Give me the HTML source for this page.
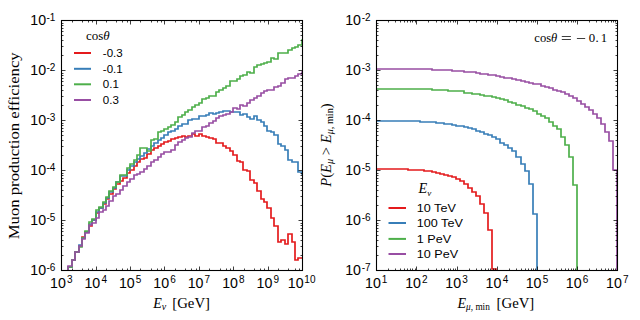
<!DOCTYPE html>
<html><head><meta charset="utf-8"><style>
html,body{margin:0;padding:0;background:#fff;width:640px;height:320px;overflow:hidden}
svg{display:block;font-family:"Liberation Sans", sans-serif}
</style></head><body><svg width="640" height="320" viewBox="0 0 640 320"><defs><clipPath id="cl"><rect x="61.50" y="20.50" width="241.00" height="250.00"/></clipPath><clipPath id="cr"><rect x="376.50" y="20.50" width="241.00" height="250.00"/></clipPath></defs><g clip-path="url(#cl)" fill="none" stroke-width="1.7" stroke-linejoin="miter"><path stroke="#e41a1c" d="M61.00,300.00 V300 H65 V300 H68 V267 H72 V260 H75 V252 H79 V246 H82 V237 H85 V232 H89 V226 H92 V220 H96 V213 H99 V208 H103 V204 H106 V199 H109 V194 H113 V189 H116 V184 H120 V181 H123 V178 H127 V173 H130 V170 H134 V166 H137 V162 H140 V159 H144 V158 H147 V154 H151 V150 H154 V148 H158 V146 H161 V144 H164 V142 H168 V141 H171 V139 H175 V138 H178 V137 H182 V136 H185 V137 H188 V136 H192 V134 H195 V136 H199 V134 H202 V136 H206 V137 H209 V138 H213 V139 H216 V143 H219 V143 H223 V146 H226 V148 H230 V151 H233 V155 H237 V161 H240 V162 H243 V170 H247 V171 H250 V180 H254 V183 H257 V191 H261 V199 H264 V202 H267 V208 H271 V218 H274 V226 H278 V242 H281 V240 H285 V244 H288 V234 H292 V242 H295 V260 H298 V258 H302 V258 H305 V300.00"/><path stroke="#377eb8" d="M61.00,300.00 V300 H65 V300 H68 V267 H72 V260 H75 V252 H79 V245 H82 V238 H85 V232 H89 V224 H92 V220 H96 V212 H99 V208 H103 V203 H106 V198 H109 V192 H113 V188 H116 V182 H120 V176 H123 V176 H127 V170 H130 V166 H134 V162 H137 V159 H140 V156 H144 V153 H147 V149 H151 V146 H154 V143 H158 V140 H161 V138 H164 V135 H168 V132 H171 V131 H175 V129 H178 V126 H182 V124 H185 V124 H188 V120 H192 V119 H195 V119 H199 V116 H202 V116 H206 V115 H209 V113 H213 V114 H216 V113 H219 V112 H223 V111 H226 V111 H230 V112 H233 V112 H237 V112 H240 V115 H243 V114 H247 V117 H250 V119 H254 V116 H257 V120 H261 V122 H264 V126 H267 V131 H271 V132 H274 V135 H278 V144 H281 V146 H285 V150 H288 V160 H292 V162 H295 V162 H298 V172 H302 V174 H305 V300.00"/><path stroke="#4daf4a" d="M61.00,300.00 V300 H65 V300 H68 V267 H72 V260 H75 V252 H79 V247 H82 V238 H85 V231 H89 V222 H92 V219 H96 V210 H99 V207 H103 V202 H106 V197 H109 V191 H113 V187 H116 V182 H120 V175 H123 V175 H127 V168 H130 V164 H134 V160 H137 V155 H140 V148 H144 V148 H147 V151 H151 V140 H154 V139 H158 V132 H161 V131 H164 V129 H168 V127 H171 V125 H175 V122 H178 V117 H182 V115 H185 V112 H188 V110 H192 V107 H195 V105 H199 V103 H202 V99 H206 V98 H209 V96 H213 V96 H216 V92 H219 V90 H223 V88 H226 V86 H230 V81 H233 V81 H237 V79 H240 V76 H243 V75 H247 V72 H250 V73 H254 V67 H257 V65 H261 V64 H264 V63 H267 V62 H271 V58 H274 V59 H278 V53 H281 V53 H285 V53 H288 V50 H292 V48 H295 V47 H298 V45 H302 V40 H305 V300.00"/><path stroke="#984ea3" d="M61.00,300.00 V300 H65 V300 H68 V266 H72 V260 H75 V252 H79 V246 H82 V239 H85 V233 H89 V225 H92 V223 H96 V218 H99 V212 H103 V210 H106 V206 H109 V201 H113 V196 H116 V194 H120 V190 H123 V186 H127 V182 H130 V179 H134 V175 H137 V174 H140 V172 H144 V169 H147 V166 H151 V162 H154 V160 H158 V157 H161 V154 H164 V152 H168 V152 H171 V150 H175 V145 H178 V142 H182 V140 H185 V138 H188 V137 H192 V133 H195 V131 H199 V131 H202 V127 H206 V126 H209 V123 H213 V121 H216 V118 H219 V116 H223 V115 H226 V114 H230 V112 H233 V108 H237 V109 H240 V105 H243 V106 H247 V103 H250 V100 H254 V98 H257 V96 H261 V93 H264 V91 H267 V90 H271 V90 H274 V87 H278 V86 H281 V83 H285 V79 H288 V78 H292 V78 H295 V76 H298 V74 H302 V72 H305 V300.00"/></g><g clip-path="url(#cr)" fill="none" stroke-width="1.7" stroke-linejoin="miter"><path stroke="#e41a1c" d="M376.00,300.00 V169 H380 V169 H384 V169 H388 V169 H392 V169 H396 V169 H400 V169 H404 V169 H408 V170 H412 V170 H416 V170 H420 V170 H424 V171 H428 V171 H432 V172 H436 V173 H440 V174 H444 V175 H448 V176 H452 V177 H456 V179 H460 V181 H464 V184 H468 V188 H472 V192 H476 V196 H480 V204 H484 V213 H488 V230 H492 V269 H496 V300.00"/><path stroke="#377eb8" d="M376.00,300.00 V121 H380 V121 H384 V121 H388 V121 H392 V121 H396 V121 H400 V121 H404 V121 H408 V121 H412 V121 H416 V121 H420 V122 H424 V122 H428 V122 H432 V122 H436 V123 H440 V123 H444 V124 H448 V124 H452 V125 H456 V126 H460 V126 H464 V127 H468 V128 H472 V129 H476 V131 H480 V132 H484 V134 H488 V135 H492 V137 H496 V139 H500 V143 H504 V145 H508 V148 H512 V151 H516 V157 H521 V164 H525 V171 H529 V184 H533 V214 H537 V300.00"/><path stroke="#4daf4a" d="M376.00,300.00 V89 H380 V89 H384 V89 H388 V89 H392 V89 H396 V89 H400 V89 H404 V89 H408 V89 H412 V89 H416 V89 H420 V89 H424 V89 H428 V89 H432 V90 H436 V90 H440 V90 H444 V90 H448 V91 H452 V91 H456 V91 H460 V91 H464 V93 H468 V93 H472 V94 H476 V94 H480 V95 H484 V96 H488 V96 H492 V97 H496 V98 H500 V99 H504 V100 H508 V102 H512 V103 H516 V105 H521 V106 H525 V108 H529 V109 H533 V111 H537 V114 H541 V116 H545 V118 H549 V122 H553 V126 H557 V129 H561 V137 H565 V145 H569 V157 H573 V185 H577 V300.00"/><path stroke="#984ea3" d="M376.00,300.00 V69 H380 V69 H384 V69 H388 V69 H392 V69 H396 V69 H400 V69 H404 V69 H408 V69 H412 V69 H416 V69 H420 V69 H424 V69 H428 V69 H432 V70 H436 V70 H440 V70 H444 V70 H448 V70 H452 V71 H456 V71 H460 V71 H464 V72 H468 V72 H472 V72 H476 V73 H480 V74 H484 V74 H488 V75 H492 V75 H496 V76 H500 V77 H504 V78 H508 V78 H512 V79 H516 V80 H521 V81 H525 V82 H529 V83 H533 V84 H537 V84 H541 V86 H545 V87 H549 V88 H553 V90 H557 V91 H561 V92 H565 V94 H569 V96 H573 V98 H577 V101 H581 V104 H585 V107 H589 V110 H593 V114 H597 V118 H601 V124 H605 V132 H609 V141 H613 V170 H617 V300.00"/></g><rect x="61.50" y="20.50" width="241.00" height="250.00" fill="none" stroke="#000" stroke-width="1.1"/><path stroke="#000" stroke-width="0.75" fill="none" d="M61.50,270.50v-4 M61.50,20.50v4 M72.50,270.50v-2 M72.50,20.50v2 M82.50,270.50v-2 M82.50,20.50v2 M88.50,270.50v-2 M88.50,20.50v2 M92.50,270.50v-2 M92.50,20.50v2 M96.50,270.50v-4 M96.50,20.50v4 M106.50,270.50v-2 M106.50,20.50v2 M116.50,270.50v-2 M116.50,20.50v2 M122.50,270.50v-2 M122.50,20.50v2 M127.50,270.50v-2 M127.50,20.50v2 M130.50,270.50v-4 M130.50,20.50v4 M140.50,270.50v-2 M140.50,20.50v2 M151.50,270.50v-2 M151.50,20.50v2 M157.50,270.50v-2 M157.50,20.50v2 M161.50,270.50v-2 M161.50,20.50v2 M164.50,270.50v-4 M164.50,20.50v4 M175.50,270.50v-2 M175.50,20.50v2 M185.50,270.50v-2 M185.50,20.50v2 M191.50,270.50v-2 M191.50,20.50v2 M196.50,270.50v-2 M196.50,20.50v2 M199.50,270.50v-4 M199.50,20.50v4 M209.50,270.50v-2 M209.50,20.50v2 M220.50,270.50v-2 M220.50,20.50v2 M226.50,270.50v-2 M226.50,20.50v2 M230.50,270.50v-2 M230.50,20.50v2 M233.50,270.50v-4 M233.50,20.50v4 M244.50,270.50v-2 M244.50,20.50v2 M254.50,270.50v-2 M254.50,20.50v2 M260.50,270.50v-2 M260.50,20.50v2 M264.50,270.50v-2 M264.50,20.50v2 M268.50,270.50v-4 M268.50,20.50v4 M278.50,270.50v-2 M278.50,20.50v2 M288.50,270.50v-2 M288.50,20.50v2 M295.50,270.50v-2 M295.50,20.50v2 M299.50,270.50v-2 M299.50,20.50v2 M302.50,270.50v-4 M302.50,20.50v4 M61.50,270.50h4 M302.50,270.50h-4 M61.50,255.50h2 M302.50,255.50h-2 M61.50,246.50h2 M302.50,246.50h-2 M61.50,240.50h2 M302.50,240.50h-2 M61.50,235.50h2 M302.50,235.50h-2 M61.50,231.50h2 M302.50,231.50h-2 M61.50,228.50h2 M302.50,228.50h-2 M61.50,225.50h2 M302.50,225.50h-2 M61.50,223.50h2 M302.50,223.50h-2 M61.50,220.50h4 M302.50,220.50h-4 M61.50,205.50h2 M302.50,205.50h-2 M61.50,196.50h2 M302.50,196.50h-2 M61.50,190.50h2 M302.50,190.50h-2 M61.50,185.50h2 M302.50,185.50h-2 M61.50,181.50h2 M302.50,181.50h-2 M61.50,178.50h2 M302.50,178.50h-2 M61.50,175.50h2 M302.50,175.50h-2 M61.50,173.50h2 M302.50,173.50h-2 M61.50,170.50h4 M302.50,170.50h-4 M61.50,155.50h2 M302.50,155.50h-2 M61.50,146.50h2 M302.50,146.50h-2 M61.50,140.50h2 M302.50,140.50h-2 M61.50,135.50h2 M302.50,135.50h-2 M61.50,131.50h2 M302.50,131.50h-2 M61.50,128.50h2 M302.50,128.50h-2 M61.50,125.50h2 M302.50,125.50h-2 M61.50,123.50h2 M302.50,123.50h-2 M61.50,120.50h4 M302.50,120.50h-4 M61.50,105.50h2 M302.50,105.50h-2 M61.50,96.50h2 M302.50,96.50h-2 M61.50,90.50h2 M302.50,90.50h-2 M61.50,85.50h2 M302.50,85.50h-2 M61.50,81.50h2 M302.50,81.50h-2 M61.50,78.50h2 M302.50,78.50h-2 M61.50,75.50h2 M302.50,75.50h-2 M61.50,73.50h2 M302.50,73.50h-2 M61.50,70.50h4 M302.50,70.50h-4 M61.50,55.50h2 M302.50,55.50h-2 M61.50,46.50h2 M302.50,46.50h-2 M61.50,40.50h2 M302.50,40.50h-2 M61.50,35.50h2 M302.50,35.50h-2 M61.50,31.50h2 M302.50,31.50h-2 M61.50,28.50h2 M302.50,28.50h-2 M61.50,25.50h2 M302.50,25.50h-2 M61.50,23.50h2 M302.50,23.50h-2 M61.50,20.50h4 M302.50,20.50h-4"/><rect x="376.50" y="20.50" width="241.00" height="250.00" fill="none" stroke="#000" stroke-width="1.1"/><path stroke="#000" stroke-width="0.75" fill="none" d="M376.50,270.50v-4 M376.50,20.50v4 M388.50,270.50v-2 M388.50,20.50v2 M395.50,270.50v-2 M395.50,20.50v2 M400.50,270.50v-2 M400.50,20.50v2 M404.50,270.50v-2 M404.50,20.50v2 M407.50,270.50v-2 M407.50,20.50v2 M410.50,270.50v-2 M410.50,20.50v2 M412.50,270.50v-2 M412.50,20.50v2 M415.50,270.50v-2 M415.50,20.50v2 M416.50,270.50v-4 M416.50,20.50v4 M428.50,270.50v-2 M428.50,20.50v2 M436.50,270.50v-2 M436.50,20.50v2 M441.50,270.50v-2 M441.50,20.50v2 M444.50,270.50v-2 M444.50,20.50v2 M448.50,270.50v-2 M448.50,20.50v2 M450.50,270.50v-2 M450.50,20.50v2 M453.50,270.50v-2 M453.50,20.50v2 M455.50,270.50v-2 M455.50,20.50v2 M457.50,270.50v-4 M457.50,20.50v4 M469.50,270.50v-2 M469.50,20.50v2 M476.50,270.50v-2 M476.50,20.50v2 M481.50,270.50v-2 M481.50,20.50v2 M485.50,270.50v-2 M485.50,20.50v2 M488.50,270.50v-2 M488.50,20.50v2 M490.50,270.50v-2 M490.50,20.50v2 M493.50,270.50v-2 M493.50,20.50v2 M495.50,270.50v-2 M495.50,20.50v2 M497.50,270.50v-4 M497.50,20.50v4 M509.50,270.50v-2 M509.50,20.50v2 M516.50,270.50v-2 M516.50,20.50v2 M521.50,270.50v-2 M521.50,20.50v2 M525.50,270.50v-2 M525.50,20.50v2 M528.50,270.50v-2 M528.50,20.50v2 M531.50,270.50v-2 M531.50,20.50v2 M533.50,270.50v-2 M533.50,20.50v2 M535.50,270.50v-2 M535.50,20.50v2 M537.50,270.50v-4 M537.50,20.50v4 M549.50,270.50v-2 M549.50,20.50v2 M556.50,270.50v-2 M556.50,20.50v2 M561.50,270.50v-2 M561.50,20.50v2 M565.50,270.50v-2 M565.50,20.50v2 M568.50,270.50v-2 M568.50,20.50v2 M571.50,270.50v-2 M571.50,20.50v2 M573.50,270.50v-2 M573.50,20.50v2 M575.50,270.50v-2 M575.50,20.50v2 M577.50,270.50v-4 M577.50,20.50v4 M589.50,270.50v-2 M589.50,20.50v2 M596.50,270.50v-2 M596.50,20.50v2 M601.50,270.50v-2 M601.50,20.50v2 M605.50,270.50v-2 M605.50,20.50v2 M608.50,270.50v-2 M608.50,20.50v2 M611.50,270.50v-2 M611.50,20.50v2 M613.50,270.50v-2 M613.50,20.50v2 M615.50,270.50v-2 M615.50,20.50v2 M617.50,270.50v-4 M617.50,20.50v4 M376.50,270.50h4 M617.50,270.50h-4 M376.50,255.50h2 M617.50,255.50h-2 M376.50,246.50h2 M617.50,246.50h-2 M376.50,240.50h2 M617.50,240.50h-2 M376.50,235.50h2 M617.50,235.50h-2 M376.50,231.50h2 M617.50,231.50h-2 M376.50,228.50h2 M617.50,228.50h-2 M376.50,225.50h2 M617.50,225.50h-2 M376.50,223.50h2 M617.50,223.50h-2 M376.50,220.50h4 M617.50,220.50h-4 M376.50,205.50h2 M617.50,205.50h-2 M376.50,196.50h2 M617.50,196.50h-2 M376.50,190.50h2 M617.50,190.50h-2 M376.50,185.50h2 M617.50,185.50h-2 M376.50,181.50h2 M617.50,181.50h-2 M376.50,178.50h2 M617.50,178.50h-2 M376.50,175.50h2 M617.50,175.50h-2 M376.50,173.50h2 M617.50,173.50h-2 M376.50,170.50h4 M617.50,170.50h-4 M376.50,155.50h2 M617.50,155.50h-2 M376.50,146.50h2 M617.50,146.50h-2 M376.50,140.50h2 M617.50,140.50h-2 M376.50,135.50h2 M617.50,135.50h-2 M376.50,131.50h2 M617.50,131.50h-2 M376.50,128.50h2 M617.50,128.50h-2 M376.50,125.50h2 M617.50,125.50h-2 M376.50,123.50h2 M617.50,123.50h-2 M376.50,120.50h4 M617.50,120.50h-4 M376.50,105.50h2 M617.50,105.50h-2 M376.50,96.50h2 M617.50,96.50h-2 M376.50,90.50h2 M617.50,90.50h-2 M376.50,85.50h2 M617.50,85.50h-2 M376.50,81.50h2 M617.50,81.50h-2 M376.50,78.50h2 M617.50,78.50h-2 M376.50,75.50h2 M617.50,75.50h-2 M376.50,73.50h2 M617.50,73.50h-2 M376.50,70.50h4 M617.50,70.50h-4 M376.50,55.50h2 M617.50,55.50h-2 M376.50,46.50h2 M617.50,46.50h-2 M376.50,40.50h2 M617.50,40.50h-2 M376.50,35.50h2 M617.50,35.50h-2 M376.50,31.50h2 M617.50,31.50h-2 M376.50,28.50h2 M617.50,28.50h-2 M376.50,25.50h2 M617.50,25.50h-2 M376.50,23.50h2 M617.50,23.50h-2 M376.50,20.50h4 M617.50,20.50h-4"/><g font-family='"Liberation Sans", sans-serif' fill="#000"><text x="30.32" y="25.00" font-size="14.20">10</text><text x="46.46" y="20.60" font-size="10.00">-1</text><text x="345.22" y="25.00" font-size="14.20">10</text><text x="361.66" y="20.60" font-size="10.00">-2</text><text x="30.32" y="75.00" font-size="14.20">10</text><text x="46.46" y="70.60" font-size="10.00">-2</text><text x="345.22" y="75.00" font-size="14.20">10</text><text x="361.66" y="70.60" font-size="10.00">-3</text><text x="30.32" y="125.00" font-size="14.20">10</text><text x="46.46" y="120.60" font-size="10.00">-3</text><text x="345.22" y="125.00" font-size="14.20">10</text><text x="361.66" y="120.60" font-size="10.00">-4</text><text x="30.32" y="175.00" font-size="14.20">10</text><text x="46.46" y="170.60" font-size="10.00">-4</text><text x="345.22" y="175.00" font-size="14.20">10</text><text x="361.66" y="170.60" font-size="10.00">-5</text><text x="30.32" y="225.00" font-size="14.20">10</text><text x="46.46" y="220.60" font-size="10.00">-5</text><text x="345.22" y="225.00" font-size="14.20">10</text><text x="361.66" y="220.60" font-size="10.00">-6</text><text x="30.32" y="275.00" font-size="14.20">10</text><text x="46.46" y="270.60" font-size="10.00">-6</text><text x="345.22" y="275.00" font-size="14.20">10</text><text x="361.66" y="270.60" font-size="10.00">-7</text><text x="50.02" y="287.80" font-size="14.20">10</text><text x="67.02" y="283.40" font-size="10.00">3</text><text x="84.45" y="287.80" font-size="14.20">10</text><text x="101.60" y="283.40" font-size="10.00">4</text><text x="118.88" y="287.80" font-size="14.20">10</text><text x="135.86" y="283.40" font-size="10.00">5</text><text x="153.30" y="287.80" font-size="14.20">10</text><text x="170.18" y="283.40" font-size="10.00">6</text><text x="187.73" y="287.80" font-size="14.20">10</text><text x="204.60" y="283.40" font-size="10.00">7</text><text x="222.16" y="287.80" font-size="14.20">10</text><text x="239.11" y="283.40" font-size="10.00">8</text><text x="256.59" y="287.80" font-size="14.20">10</text><text x="273.50" y="283.40" font-size="10.00">9</text><text x="287.82" y="287.80" font-size="14.20">10</text><text x="304.34" y="283.40" font-size="10.00">10</text><text x="365.02" y="287.80" font-size="14.20">10</text><text x="381.64" y="283.40" font-size="10.00">1</text><text x="405.19" y="287.80" font-size="14.20">10</text><text x="422.06" y="283.40" font-size="10.00">2</text><text x="445.35" y="287.80" font-size="14.20">10</text><text x="462.35" y="283.40" font-size="10.00">3</text><text x="485.52" y="287.80" font-size="14.20">10</text><text x="502.67" y="283.40" font-size="10.00">4</text><text x="525.69" y="287.80" font-size="14.20">10</text><text x="542.67" y="283.40" font-size="10.00">5</text><text x="565.85" y="287.80" font-size="14.20">10</text><text x="582.73" y="283.40" font-size="10.00">6</text><text x="606.02" y="287.80" font-size="14.20">10</text><text x="622.89" y="283.40" font-size="10.00">7</text></g><path stroke="#e41a1c" stroke-width="2" d="M74,53.00H91"/><text transform="translate(102.79,56.80) scale(1.1,1)" font-size="10.5" font-family='"Liberation Sans", sans-serif'>-0.3</text><path stroke="#377eb8" stroke-width="2" d="M74,68.80H91"/><text transform="translate(102.79,72.60) scale(1.1,1)" font-size="10.5" font-family='"Liberation Sans", sans-serif'>-0.1</text><path stroke="#4daf4a" stroke-width="2" d="M74,84.30H91"/><text transform="translate(102.85,88.10) scale(1.1,1)" font-size="10.5" font-family='"Liberation Sans", sans-serif'>0.1</text><path stroke="#984ea3" stroke-width="2" d="M74,100.00H91"/><text transform="translate(102.85,103.80) scale(1.1,1)" font-size="10.5" font-family='"Liberation Sans", sans-serif'>0.3</text><path stroke="#e41a1c" stroke-width="2" d="M388.5,208.00H406"/><text transform="translate(416.84,212.00) scale(1.20,1)" font-size="10.5" font-family='"Liberation Sans", sans-serif'>10 TeV</text><path stroke="#377eb8" stroke-width="2" d="M388.5,223.00H406"/><text transform="translate(416.84,227.00) scale(1.20,1)" font-size="10.5" font-family='"Liberation Sans", sans-serif'>100 TeV</text><path stroke="#4daf4a" stroke-width="2" d="M388.5,238.90H406"/><text transform="translate(416.84,242.90) scale(1.20,1)" font-size="10.5" font-family='"Liberation Sans", sans-serif'>1 PeV</text><path stroke="#984ea3" stroke-width="2" d="M388.5,254.00H406"/><text transform="translate(416.84,258.00) scale(1.20,1)" font-size="10.5" font-family='"Liberation Sans", sans-serif'>10 PeV</text><text x="86" y="40" font-size="13" font-family='"Liberation Serif", serif'>cos<tspan font-style="italic">&#952;</tspan></text><text x="418.6" y="193.3" font-size="14.2" font-family='"Liberation Serif", serif'><tspan font-style="italic">E</tspan><tspan font-style="italic" font-size="9" dy="2.2">&#957;</tspan></text><text x="534.3" y="41.8" font-size="12.6" font-family='"Liberation Serif", serif'>cos<tspan font-style="italic">&#952;</tspan></text><path stroke="#000" stroke-width="0.75" fill="none" d="M561.8,36.5H570.9M561.8,39.5H570.9M576.9,38.5H585.2"/><text x="588.7" y="41.8" font-size="12.8" font-family='"Liberation Serif", serif'>0</text><text x="595.4" y="41.8" font-size="12.8" font-family='"Liberation Serif", serif'>.</text><text x="600.7" y="41.8" font-size="12.8" font-family='"Liberation Serif", serif'>1</text><text x="153.3" y="307.6" font-size="14" font-family='"Liberation Serif", serif'><tspan font-style="italic">E</tspan><tspan font-style="italic" font-size="10" dy="2">&#957;</tspan></text><text x="172.3" y="307.6" font-size="14" font-family='"Liberation Serif", serif' textLength="37.7" lengthAdjust="spacingAndGlyphs">[GeV]</text><text x="457.5" y="307.6" font-size="14" font-family='"Liberation Serif", serif'><tspan font-style="italic">E</tspan><tspan font-size="9.3" dy="2"><tspan font-style="italic">&#956;</tspan>, min</tspan></text><text x="496.6" y="307.6" font-size="14" font-family='"Liberation Serif", serif' textLength="37.7" lengthAdjust="spacingAndGlyphs">[GeV]</text><text transform="translate(19.0,239.3) rotate(-90)" x="0" y="0" font-size="13.6" font-family='"Liberation Serif", serif' textLength="187" lengthAdjust="spacingAndGlyphs">Muon production efficiency</text><text transform="translate(330.5,186.8) rotate(-90)" x="0" y="0" font-size="13.6" font-family='"Liberation Serif", serif' textLength="83.5" lengthAdjust="spacingAndGlyphs"><tspan font-style="italic">P</tspan>(<tspan font-style="italic">E</tspan><tspan font-size="9.5" font-style="italic" dy="2">&#956;</tspan><tspan dy="-2"> &gt; </tspan><tspan font-style="italic">E</tspan><tspan font-size="9.5" dy="2"><tspan font-style="italic">&#956;</tspan>, min</tspan><tspan dy="-2">)</tspan></text></svg></body></html>
